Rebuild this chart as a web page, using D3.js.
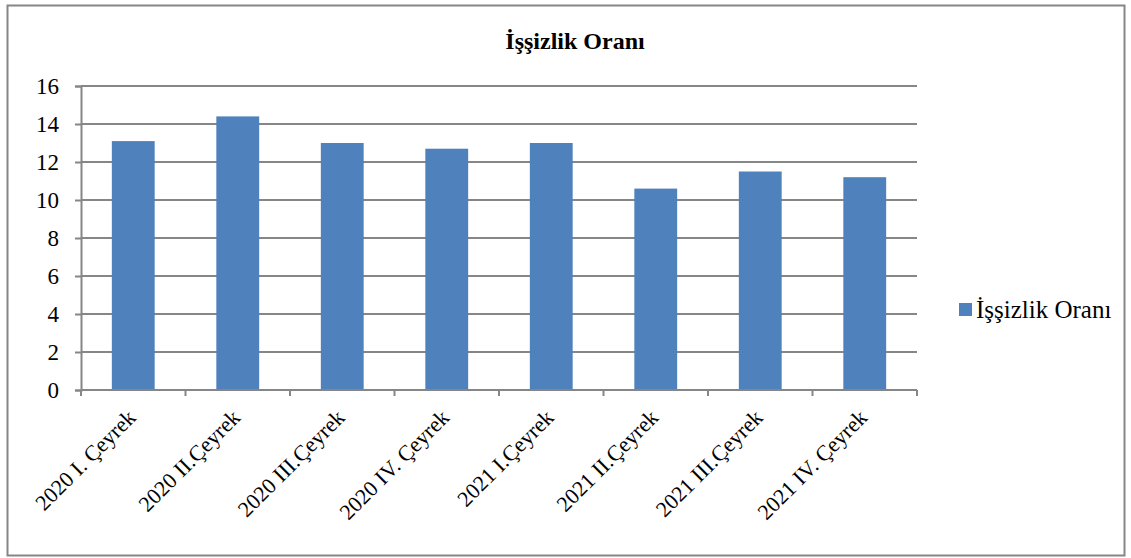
<!DOCTYPE html>
<html>
<head>
<meta charset="utf-8">
<script src="https://cdn.jsdelivr.net/npm/d3@7"></script>
<style>
  body { margin: 0; background: #fff; }
</style>
</head>
<body>
<svg id="chart"></svg>
<script>
// quarters shown on the x axis
const quarters = ["2020 I. Çeyrek", "2020 II.Çeyrek", "2020 III.Çeyrek", "2020 IV. Çeyrek",
                  "2021 I.Çeyrek", "2021 II.Çeyrek", "2021 III.Çeyrek", "2021 IV. Çeyrek"];
// unemployment rate per quarter
const rates = [13.1, 14.4, 13.0, 12.7, 13.0, 10.6, 11.5, 11.2];
// y axis ticks
const yTicks = [0, 2, 4, 6, 8, 10, 12, 14, 16];
const seriesName = "İşşizlik Oranı";
const chartTitle = "İşşizlik Oranı";

const width = 1131, height = 558;
const margin = {top: 86, right: 214, bottom: 168, left: 81};
const barColor = "#4F81BD";
const gridColor = "#868686";
const serif = "'Liberation Serif', 'Times New Roman', serif";

const svg = d3.select("#chart").attr("width", width).attr("height", height);

// outer frame
svg.append("rect")
    .attr("x", 7.5).attr("y", 5.5)
    .attr("width", 1117).attr("height", 550)
    .attr("fill", "#fff")
    .attr("stroke", gridColor)
    .attr("stroke-width", 2);

const x = d3.scaleBand()
    .domain(quarters)
    .range([margin.left, width - margin.right])
    .paddingInner(0.59)
    .paddingOuter(0.295);

const y = d3.scaleLinear()
    .domain([0, 16])
    .range([height - margin.bottom, margin.top]);

// horizontal grid lines
svg.append("g")
    .selectAll("line")
    .data(yTicks.slice(1))
    .join("line")
    .attr("x1", margin.left).attr("x2", width - margin.right)
    .attr("y1", d => y(d)).attr("y2", d => y(d))
    .attr("stroke", gridColor)
    .attr("stroke-width", 2);

// bars
svg.append("g")
    .selectAll("rect")
    .data(rates)
    .join("rect")
    .attr("x", (d, i) => x(quarters[i]))
    .attr("y", d => y(d))
    .attr("width", x.bandwidth())
    .attr("height", d => y(0) - y(d))
    .attr("fill", barColor);

// y axis
const yAxis = svg.append("g")
    .attr("transform", "translate(" + margin.left + ",0)")
    .call(d3.axisLeft(y).tickValues(yTicks).tickSize(6).tickPadding(16));
yAxis.attr("font-family", serif).attr("font-size", 23);
yAxis.select(".domain").attr("stroke", gridColor).attr("stroke-width", 2);
yAxis.selectAll(".tick line").attr("stroke", gridColor).attr("stroke-width", 2);
yAxis.selectAll(".tick text").attr("fill", "#000");

// x axis with ticks at category boundaries
const boundaries = d3.range(quarters.length + 1).map(i => margin.left + i * (width - margin.right - margin.left) / quarters.length);
svg.append("line")
    .attr("x1", margin.left).attr("x2", width - margin.right)
    .attr("y1", y(0)).attr("y2", y(0))
    .attr("stroke", gridColor).attr("stroke-width", 2);
svg.append("g")
    .selectAll("line")
    .data(boundaries)
    .join("line")
    .attr("x1", d => d).attr("x2", d => d)
    .attr("y1", y(0)).attr("y2", y(0) + 6)
    .attr("stroke", gridColor).attr("stroke-width", 2);

// rotated category labels
svg.append("g")
    .attr("font-family", serif)
    .attr("font-size", 22)
    .selectAll("text")
    .data(quarters)
    .join("text")
    .attr("transform", d => "translate(" + (x(d) + x.bandwidth() / 2 - 7) + "," + (y(0) + 18) + ") rotate(-45)")
    .attr("text-anchor", "end")
    .attr("dy", "0.7em")
    .text(d => d);

// title
svg.append("text")
    .attr("x", 575)
    .attr("y", 49)
    .attr("text-anchor", "middle")
    .attr("font-family", serif)
    .attr("font-size", 24)
    .attr("font-weight", "bold")
    .text(chartTitle);

// legend
const legend = svg.append("g").attr("transform", "translate(959,303)");
legend.append("rect")
    .attr("width", 13).attr("height", 13)
    .attr("fill", barColor);
legend.append("text")
    .attr("x", 17).attr("y", 15)
    .attr("font-family", serif)
    .attr("font-size", 25)
    .text(seriesName);
</script>
</body>
</html>
